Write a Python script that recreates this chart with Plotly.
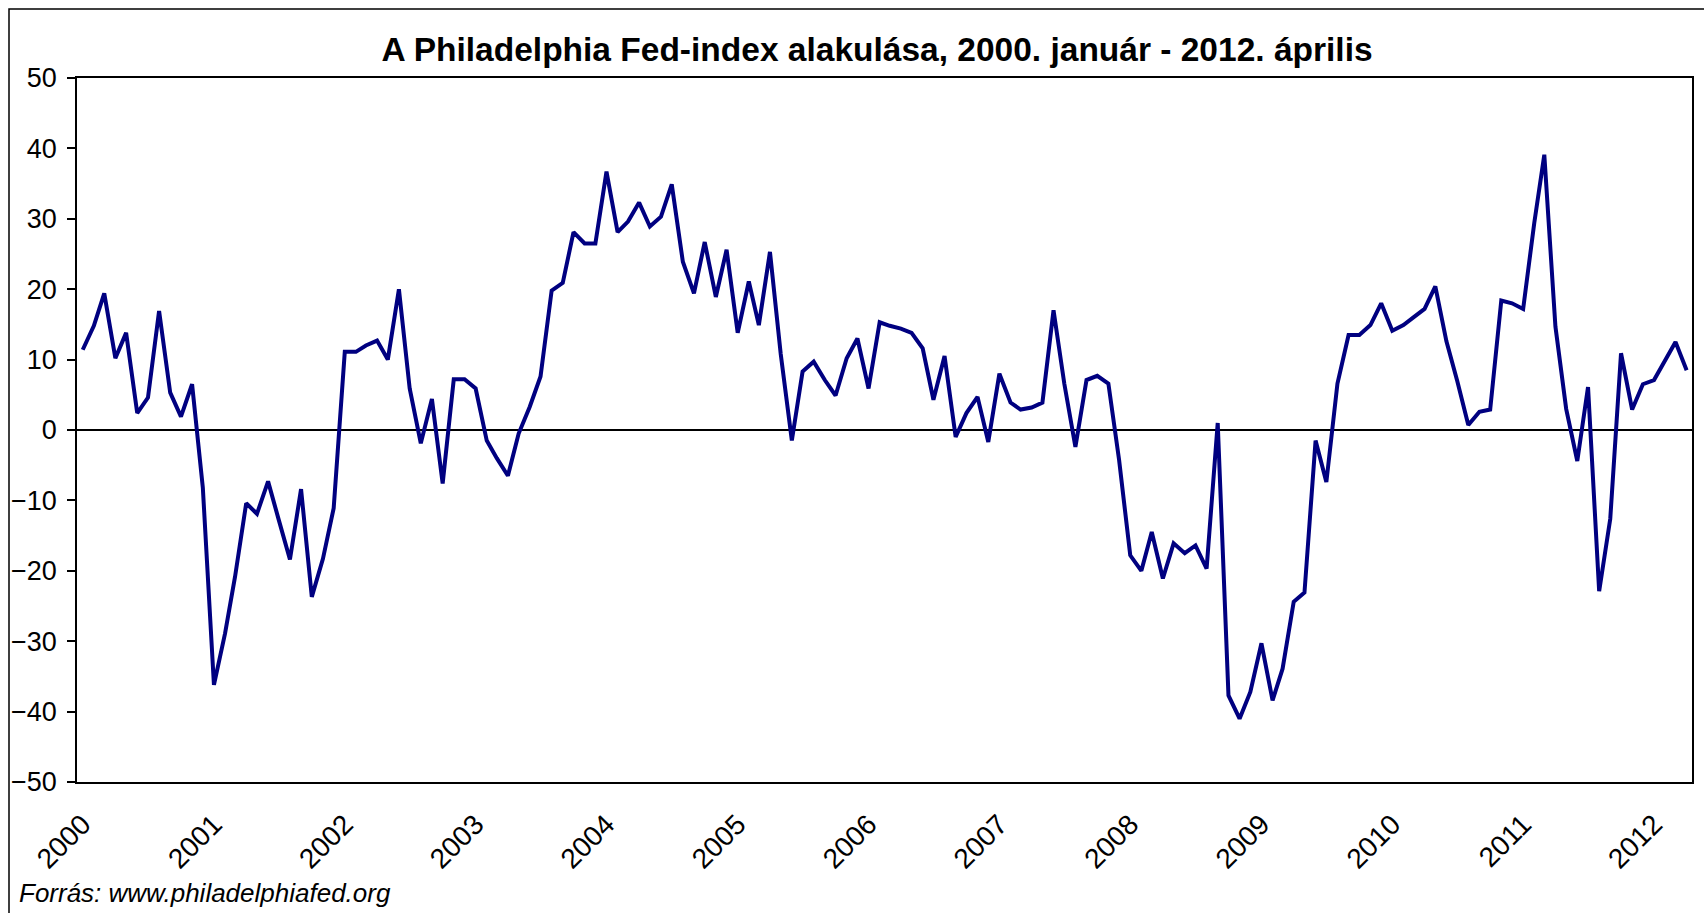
import plotly.graph_objects as go
import pandas as pd

title_text = "A Philadelphia Fed-index alakulása, 2000. január - 2012. április"
source_text = "Forrás: www.philadelphiafed.org"
years = [str(y) for y in range(2000, 2013)]

v2000 = [11.4, 14.8, 19.4, 10.2, 13.8, 2.4, 4.6, 16.9, 5.3, 1.9, 6.5, -8.2]
v2001 = [-36.2, -28.9, -20.8, -10.4, -11.9, -7.3, -12.8, -18.4, -8.4, -23.7, -18.3, -11.1]
v2002 = [11.1, 11.1, 12.0, 12.7, 10.0, 20.0, 5.9, -1.9, 4.4, -7.6, 7.2, 7.2]
v2003 = [5.9, -1.5, -4.0, -6.5, -0.5, 3.3, 7.6, 19.8, 20.9, 28.1, 26.5, 26.5]
v2004 = [36.7, 28.1, 29.6, 32.3, 28.9, 30.3, 34.9, 23.9, 19.4, 26.7, 18.9, 25.6]
v2005 = [13.8, 21.1, 14.9, 25.3, 10.8, -1.5, 8.3, 9.7, 7.1, 4.9, 10.2, 13.0]
v2006 = [5.9, 15.3, 14.8, 14.4, 13.8, 11.6, 4.3, 10.5, -1.0, 2.4, 4.7, -1.7]
v2007 = [8.0, 3.9, 2.9, 3.2, 3.9, 17.0, 6.6, -2.4, 7.1, 7.7, 6.6, -4.3]
v2008 = [-17.8, -20.0, -14.5, -21.1, -16.1, -17.5, -16.4, -19.7, 1.0, -37.7, -41.0, -37.2]
v2009 = [-30.3, -38.4, -33.9, -24.4, -23.1, -1.5, -7.4, 6.6, 13.5, 13.5, 14.9, 18.0]
v2010 = [14.1, 14.9, 16.0, 17.2, 20.4, 12.6, 7.0, 0.7, 2.6, 2.9, 18.4, 18.0]
v2011 = [17.2, 29.4, 39.1, 14.7, 3.0, -4.4, 6.1, -22.9, -12.6, 10.9, 2.9, 6.5]
v2012 = [7.1, 10.0, 12.5, 8.5]

values = v2000 + v2001 + v2002 + v2003 + v2004 + v2005 + v2006 + v2007 + v2008 + v2009 + v2010 + v2011 + v2012
months = pd.date_range("2000-01-01", periods=len(values), freq="MS")
tick_dates = [f"{y}-01-01" for y in years]

W, H = 1704, 913
L, R, T, B = 77, 12, 78, 131
pw, ph = W - L - R, H - T - B

def px_x(p):
    return (p - L) / pw

def px_y(p):
    return (H - B - p) / ph

font_family = "Liberation Sans, Arial, sans-serif"

fig = go.Figure()
fig.add_trace(go.Scatter(
    x=months, y=values, mode="lines",
    line=dict(color="#000080", width=4),
    hoverinfo="x+y", showlegend=False,
))

fig.update_layout(
    width=W, height=H,
    margin=dict(l=L, r=R, t=T, b=B, pad=0, autoexpand=False),
    paper_bgcolor="white", plot_bgcolor="white",
    font=dict(family=font_family, size=27, color="black"),
    title=dict(
        text="<b>" + title_text + "</b>",
        x=877 / W, xref="container", xanchor="center",
        y=1 - 49 / H, yref="container", yanchor="middle",
        font=dict(family=font_family, size=33.5, color="black"),
    ),
    xaxis=dict(
        range=["1999-12-16", "2012-04-16"],
        tickmode="array", tickvals=tick_dates, ticktext=years,
        tickangle=-45, ticks="", showgrid=False, zeroline=False,
        showline=True, linecolor="black", linewidth=1.5, mirror=True,
        tickfont=dict(size=28), automargin=False,
        ticklabelstandoff=13,
    ),
    yaxis=dict(
        range=[-50, 50], tickmode="linear", tick0=-50, dtick=10,
        ticks="outside", ticklen=8, tickwidth=1.5, tickcolor="black",
        showgrid=False, zeroline=True, zerolinecolor="black", zerolinewidth=1.5,
        showline=True, linecolor="black", linewidth=1.5, mirror=True,
        tickfont=dict(size=27), automargin=False,
        ticklabelstandoff=5,
    ),
    shapes=[dict(
        type="rect", xref="paper", yref="paper",
        x0=px_x(9), x1=1.2, y0=-0.5, y1=px_y(9),
        line=dict(color="black", width=1.5), fillcolor="rgba(0,0,0,0)",
        layer="below",
    )],
    annotations=[dict(
        text="<i>" + source_text + "</i>",
        xref="paper", yref="paper", x=px_x(17), y=px_y(910),
        xanchor="left", yanchor="bottom", showarrow=False,
        font=dict(family=font_family, size=26, color="black"),
    )],
)

fig.write_html(
    "out.html",
    config={"displayModeBar": False},
    post_script="document.body.style.margin='0';document.body.style.overflow='hidden';",
)
